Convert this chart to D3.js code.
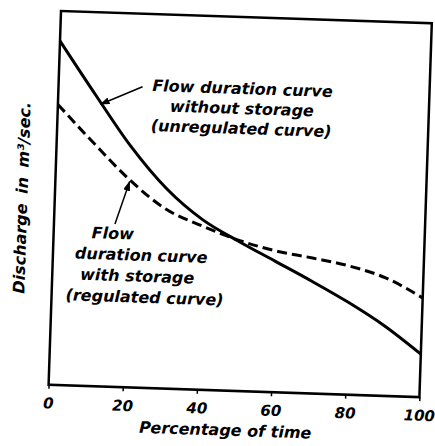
<!DOCTYPE html>
<html>
<head>
<meta charset="utf-8">
<script src="https://cdn.jsdelivr.net/npm/d3@7/dist/d3.min.js"></script>
<style>
  html, body { margin: 0; padding: 0; background: #fff; }
  svg { display: block; }
  text { font-family: "DejaVu Sans", sans-serif; font-weight: bold; font-style: italic; fill: #000; }
</style>
</head>
<body>
<div id="chart"></div>
<script>
// Percentage of time (x) and discharge (relative units, 0-100 of plot height)
const percent = [0, 10, 20, 30, 40, 50, 60, 70, 80, 90, 100];
const withoutStorage = [92, 78, 64.5, 53.5, 45.5, 40, 35, 30, 24.7, 18.7, 11.5];
const withStorage = [75, 65, 55.5, 48, 43.8, 40.3, 37.8, 36.2, 34.4, 31.5, 26.5];
const xTicks = [0, 20, 40, 60, 80, 100];

const unregulatedLabel = ['Flow duration curve', 'without storage', '(unregulated curve)'];
const regulatedLabel = ['Flow', 'duration curve', 'with storage', '(regulated curve)'];

const width = 435, height = 446;
const w = 371, h = 374;
// the scanned figure is slightly tilted
const origin = { x: 61, y: 11 }, tilt = 1.9;

const svg = d3.select('#chart').append('svg')
    .attr('width', width)
    .attr('height', height);

svg.append('defs').append('marker')
    .attr('id', 'arrow')
    .attr('markerUnits', 'userSpaceOnUse')
    .attr('markerWidth', 10)
    .attr('markerHeight', 7)
    .attr('refX', 9)
    .attr('refY', 3.5)
    .attr('orient', 'auto')
    .append('path')
    .attr('d', 'M0,0 L10,3.5 L0,7 Z')
    .attr('fill', '#000');

const g = svg.append('g')
    .attr('transform', `translate(${origin.x},${origin.y}) rotate(${tilt})`);

const x = d3.scaleLinear().domain([0, 100]).range([0, w]);
const y = d3.scaleLinear().domain([0, 100]).range([h, 0]);

// linear lookup on a series, used to put arrow tips on the curves
function valueAt(series, p) {
    const i = Math.min(d3.bisectRight(percent, p), percent.length - 1);
    const t = (p - percent[i - 1]) / (percent[i] - percent[i - 1]);
    return series[i - 1] + t * (series[i] - series[i - 1]);
}

// frame
g.append('rect')
    .attr('x', 0).attr('y', 0)
    .attr('width', w).attr('height', h)
    .attr('fill', 'none')
    .attr('stroke', '#000')
    .attr('stroke-width', 2.5);

// x axis ticks + labels
const xAxis = g.append('g')
    .attr('transform', `translate(0,${h})`)
    .call(d3.axisBottom(x).tickValues(xTicks).tickSize(4).tickPadding(9));
xAxis.select('.domain').remove();
xAxis.selectAll('line').attr('stroke', '#000').attr('stroke-width', 1.5);
xAxis.selectAll('text')
    .attr('font-size', 15)
    .attr('font-family', '"DejaVu Sans", sans-serif')
    .style('font-weight', 'bold')
    .style('font-style', 'italic');

g.append('text')
    .attr('x', x(48))
    .attr('y', h + 45)
    .attr('text-anchor', 'middle')
    .attr('font-size', 16)
    .text('Percentage of time');

g.append('text')
    .attr('transform', `translate(-33,188) rotate(-90)`)
    .attr('text-anchor', 'middle')
    .attr('dy', '0.35em')
    .attr('font-size', 16)
    .attr('word-spacing', 4)
    .text('Discharge in m³/sec.');

const line = d3.line()
    .x((d, i) => x(percent[i]))
    .y(d => y(d))
    .curve(d3.curveMonotoneX);

g.append('path')
    .datum(withStorage)
    .attr('d', line)
    .attr('fill', 'none')
    .attr('stroke', '#000')
    .attr('stroke-width', 3)
    .attr('stroke-dasharray', '10,5');

g.append('path')
    .datum(withoutStorage)
    .attr('d', line)
    .attr('fill', 'none')
    .attr('stroke', '#000')
    .attr('stroke-width', 3);

// annotations
g.append('text')
    .attr('text-anchor', 'middle')
    .attr('font-size', 16)
    .selectAll('tspan')
    .data(unregulatedLabel)
    .enter()
    .append('tspan')
    .attr('x', 184)
    .attr('y', (d, i) => 77 + i * 20)
    .text(d => d);

const regX = [38, 22, 28, 14];
g.append('text')
    .attr('font-size', 16)
    .selectAll('tspan')
    .data(regulatedLabel)
    .enter()
    .append('tspan')
    .attr('x', (d, i) => regX[i])
    .attr('y', (d, i) => 226 + i * 21)
    .text(d => d);

const arrows = [
    { from: [84, 73], series: withoutStorage, at: 11.5 },
    { from: [61, 211], series: withStorage, at: 20 }
];
g.selectAll('.arrow')
    .data(arrows)
    .enter()
    .append('line')
    .attr('class', 'arrow')
    .attr('x1', d => d.from[0])
    .attr('y1', d => d.from[1])
    .attr('x2', d => x(d.at))
    .attr('y2', d => y(valueAt(d.series, d.at)) + 2)
    .attr('stroke', '#000')
    .attr('stroke-width', 1.5)
    .attr('marker-end', 'url(#arrow)');
</script>
</body>
</html>
